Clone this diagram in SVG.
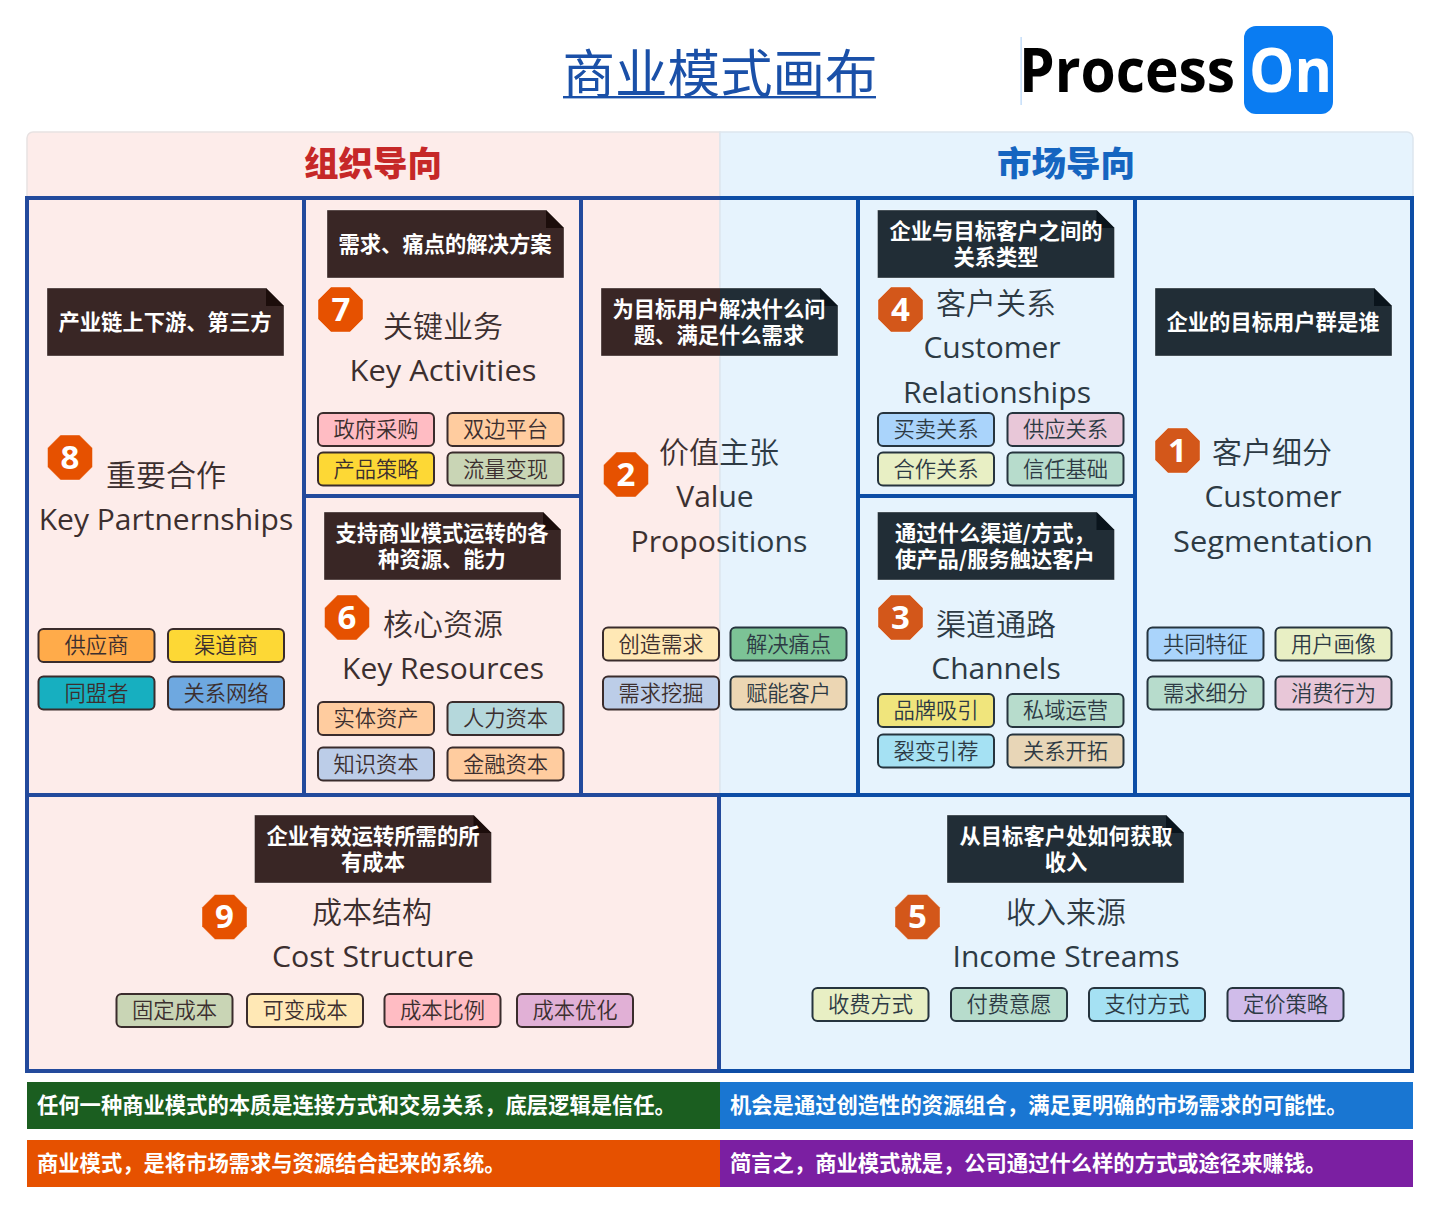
<svg xmlns="http://www.w3.org/2000/svg" width="1440" height="1213" viewBox="0 0 1440 1213">
<style>
text{font-family:"Open Sans","Noto Sans CJK SC","Noto Sans",sans-serif;text-anchor:middle}
.cjk{font-family:"Noto Sans CJK SC","Noto Sans",sans-serif}
.h{font-size:34.5px;font-weight:900}
.n{font-size:21.3px;font-weight:700;fill:#fff;font-family:"Noto Sans CJK SC",sans-serif}
.bar{font-size:21.3px;font-weight:700;fill:#fff;text-anchor:start;font-family:"Noto Sans CJK SC",sans-serif}
.ttl{font-size:30px;font-weight:350;font-family:"Noto Sans CJK SC",sans-serif}
.en{font-size:30px;font-weight:400}
.L{fill:#3c2f2f}
.R{fill:#2d3a44}
.S{fill:url(#split)}
.tx{font-size:21.3px;font-weight:350;font-family:"Noto Sans CJK SC",sans-serif}
.tg{stroke-width:2;rx:5px;ry:5px;width:116px;height:33px}
.tgL{stroke:#3a2c2c}
.tgR{stroke:#26343e}
.d{font-size:33px;font-weight:700;fill:#fff}
.line{fill:none;stroke-width:4}
.a{stroke:#234a9c}
.b{stroke:#0d4da6}
.nb{stroke:#fff;stroke-opacity:.35;stroke-width:1}
</style>
<defs>
<linearGradient id="split" gradientUnits="userSpaceOnUse" x1="0" y1="0" x2="1440" y2="0">
<stop offset="0.5" stop-color="#3c2f2f"/><stop offset="0.5" stop-color="#2d3a44"/>
</linearGradient>
<linearGradient id="splitN" gradientUnits="userSpaceOnUse" x1="0" y1="0" x2="1440" y2="0">
<stop offset="0.5" stop-color="#392625"/><stop offset="0.5" stop-color="#212d36"/>
</linearGradient>
<polygon id="oct" points="13,0 32,0 45,13 45,32 32,45 13,45 0,32 0,13" stroke="#fff" stroke-opacity=".4" stroke-width="1"/>
<path id="note" d="M0,0H219L237,18V68H0Z" class="nb"/>
<path id="fold" d="M219,0L237,18H219Z"/>
</defs>

<rect width="1440" height="1213" fill="#fff"/>

<g id="title">
<text x="720" y="93" class="cjk" font-size="52.5" font-weight="400" fill="#1a50a8">商业模式画布</text>
<rect x="563" y="96" width="313" height="2.4" fill="#1a50a8"/>
</g>

<g id="logo">
<rect x="1020.6" y="37" width="1" height="68" fill="#a9cdf5"/>
<text x="1019" y="92" font-size="61" font-weight="700" fill="#000" style="text-anchor:start" textLength="216" lengthAdjust="spacingAndGlyphs">Process</text>
<rect x="1244" y="26" width="89" height="88" rx="12" fill="#0a7cf2"/>
<text x="1249" y="92" font-size="61" font-weight="700" fill="#fff" style="text-anchor:start" textLength="83" lengthAdjust="spacingAndGlyphs">On</text>
</g>

<g id="panels">
<path d="M720,132H33a6,6 0 0 0 -6,6V1072H720Z" fill="#fdecea" stroke="#e8e2e2" stroke-width="1.5"/>
<path d="M720,132H1407a6,6 0 0 1 6,6V1072H720Z" fill="#e6f3fd" stroke="#dde6ee" stroke-width="1.5"/>
</g>

<g id="headers">
<text x="373" y="176" class="h cjk" fill="#c62828">组织导向</text>
<text x="1066" y="176" class="h cjk" fill="#1565c0">市场导向</text>
</g>

<g id="grid">
<path class="line a" d="M720,198H27V1071H720M27,795H720M304,198V795M581,198V795M304,496H581M719,795V1071"/>
<path class="line b" d="M720,198H1412V1071H720M720,795H1412M858,198V795M1135,198V795M858,496H1135"/>
</g>

<g id="node-8">
<use href="#note" x="47" y="288" fill="#392625"/><use href="#fold" x="47" y="288" fill="#1c0d0b"/>
<text x="165" y="330" class="n">产业链上下游、第三方</text>
<use href="#oct" x="47.5" y="435" fill="#e65100"/><text x="70" y="469" class="d">8</text>
<text x="166" y="486" class="ttl L">重要合作</text>
<text x="166" y="530" class="en L">Key Partnernships</text>
<rect class="tg tgL" x="38.5" y="629" fill="#ffab4a"/><text x="96.5" y="653" class="tx L">供应商</text>
<rect class="tg tgL" x="168" y="629" fill="#fdd835"/><text x="226" y="653" class="tx L">渠道商</text>
<rect class="tg tgL" x="38.5" y="676.5" fill="#17afc0"/><text x="96.5" y="701" class="tx L">同盟者</text>
<rect class="tg tgL" x="168" y="676.5" fill="#6ea8e0"/><text x="226" y="701" class="tx L">关系网络</text>
</g>

<g id="node-7">
<use href="#note" x="327" y="210" fill="#392625"/><use href="#fold" x="327" y="210" fill="#1c0d0b"/>
<text x="445" y="252" class="n">需求、痛点的解决方案</text>
<use href="#oct" x="318" y="287" fill="#e65100"/><text x="341" y="321" class="d">7</text>
<text x="443" y="337" class="ttl L">关键业务</text>
<text x="443" y="381" class="en L" textLength="187" lengthAdjust="spacingAndGlyphs">Key Activities</text>
<rect class="tg tgL" x="318" y="413" fill="#ffbcc3"/><text x="376" y="437" class="tx L">政府采购</text>
<rect class="tg tgL" x="447.5" y="413" fill="#ffcc9f"/><text x="505.5" y="437" class="tx L">双边平台</text>
<rect class="tg tgL" x="318" y="452.5" fill="#fdd835"/><text x="376" y="477" class="tx L">产品策略</text>
<rect class="tg tgL" x="447.5" y="452.5" fill="#c9d5b5"/><text x="505.5" y="477" class="tx L">流量变现</text>
</g>

<g id="node-6">
<use href="#note" x="324" y="512" fill="#392625"/><use href="#fold" x="324" y="512" fill="#1c0d0b"/>
<text x="442" y="541" class="n">支持商业模式运转的各</text>
<text x="442" y="567" class="n">种资源、能力</text>
<use href="#oct" x="324.5" y="595" fill="#e65100"/><text x="347" y="629" class="d">6</text>
<text x="443" y="635" class="ttl L">核心资源</text>
<text x="443" y="679" class="en L" textLength="202" lengthAdjust="spacingAndGlyphs">Key Resources</text>
<rect class="tg tgL" x="318" y="702" fill="#ffcc9f"/><text x="376" y="726" class="tx L">实体资产</text>
<rect class="tg tgL" x="447.5" y="702" fill="#b5d8dc"/><text x="505.5" y="726" class="tx L">人力资本</text>
<rect class="tg tgL" x="318" y="747.5" fill="#bccde8"/><text x="376" y="772" class="tx L">知识资本</text>
<rect class="tg tgL" x="447.5" y="747.5" fill="#ffcc9f"/><text x="505.5" y="772" class="tx L">金融资本</text>
</g>

<g id="node-2">
<path d="M601,288H820L838,306V356H601Z" fill="url(#splitN)" class="nb"/>
<path d="M820,288L838,306H820Z" fill="#0a141c"/>
<text x="719" y="317" class="n">为目标用户解决什么问</text>
<text x="719" y="343" class="n">题、满足什么需求</text>
<use href="#oct" x="603.5" y="452" fill="#e65100"/><text x="626" y="486" class="d">2</text>
<text x="719" y="463" class="ttl S">价值主张</text>
<text x="715" y="507" class="en S">Value</text>
<text x="719" y="552" class="en S" textLength="177" lengthAdjust="spacingAndGlyphs">Propositions</text>
<rect class="tg tgL" x="603" y="627.5" fill="#ffe8b5"/><text x="661" y="652" class="tx L">创造需求</text>
<rect class="tg tgR" x="730.5" y="627.5" fill="#7cc396"/><text x="788.5" y="652" class="tx R">解决痛点</text>
<rect class="tg tgL" x="603" y="676.5" fill="#bccde8"/><text x="661" y="701" class="tx L">需求挖掘</text>
<rect class="tg tgR" x="730.5" y="676.5" fill="#ecd6b3"/><text x="788.5" y="701" class="tx R">赋能客户</text>
</g>

<g id="node-4">
<use href="#note" x="877.5" y="210" fill="#212d36"/><use href="#fold" x="877.5" y="210" fill="#0a141c"/>
<text x="996" y="239" class="n">企业与目标客户之间的</text>
<text x="996" y="265" class="n">关系类型</text>
<use href="#oct" x="878" y="287" fill="#d3571a"/><text x="900.5" y="321" class="d">4</text>
<text x="996" y="314" class="ttl R">客户关系</text>
<text x="992" y="358" class="en R">Customer</text>
<text x="997" y="403" class="en R" textLength="188" lengthAdjust="spacingAndGlyphs">Relationships</text>
<rect class="tg tgR" x="878" y="413" fill="#aad4fb"/><text x="936" y="437" class="tx R">买卖关系</text>
<rect class="tg tgR" x="1007.5" y="413" fill="#e8c7d8"/><text x="1065.5" y="437" class="tx R">供应关系</text>
<rect class="tg tgR" x="878" y="452.5" fill="#e8efc4"/><text x="936" y="477" class="tx R">合作关系</text>
<rect class="tg tgR" x="1007.5" y="452.5" fill="#b7dccc"/><text x="1065.5" y="477" class="tx R">信任基础</text>
</g>

<g id="node-3">
<use href="#note" x="877.5" y="512" fill="#212d36"/><use href="#fold" x="877.5" y="512" fill="#0a141c"/>
<text x="895" y="541" class="n" style="text-anchor:start">通过什么渠道/方式，</text>
<text x="895" y="567" class="n" style="text-anchor:start">使产品/服务触达客户</text>
<use href="#oct" x="878" y="595" fill="#d3571a"/><text x="900.5" y="629" class="d">3</text>
<text x="996" y="635" class="ttl R">渠道通路</text>
<text x="996" y="679" class="en R">Channels</text>
<rect class="tg tgR" x="878" y="694" fill="#f0e57c"/><text x="936" y="718" class="tx R">品牌吸引</text>
<rect class="tg tgR" x="1007.5" y="694" fill="#b7dccc"/><text x="1065.5" y="718" class="tx R">私域运营</text>
<rect class="tg tgR" x="878" y="734.5" fill="#a5e1f3"/><text x="936" y="759" class="tx R">裂变引荐</text>
<rect class="tg tgR" x="1007.5" y="734.5" fill="#e8d6b7"/><text x="1065.5" y="759" class="tx R">关系开拓</text>
</g>

<g id="node-1">
<use href="#note" x="1155" y="288" fill="#212d36"/><use href="#fold" x="1155" y="288" fill="#0a141c"/>
<text x="1273" y="330" class="n">企业的目标用户群是谁</text>
<use href="#oct" x="1155" y="428" fill="#d3571a"/><text x="1177.5" y="462" class="d">1</text>
<text x="1272" y="463" class="ttl R">客户细分</text>
<text x="1273" y="507" class="en R">Customer</text>
<text x="1273" y="552" class="en R" textLength="200" lengthAdjust="spacingAndGlyphs">Segmentation</text>
<rect class="tg tgR" x="1147.5" y="627.5" fill="#aad4fb"/><text x="1205.5" y="652" class="tx R">共同特征</text>
<rect class="tg tgR" x="1275.5" y="627.5" fill="#e8efc4"/><text x="1333.5" y="652" class="tx R">用户画像</text>
<rect class="tg tgR" x="1147.5" y="676.5" fill="#b7dccc"/><text x="1205.5" y="701" class="tx R">需求细分</text>
<rect class="tg tgR" x="1275.5" y="676.5" fill="#e8c7d8"/><text x="1333.5" y="701" class="tx R">消费行为</text>
</g>

<g id="node-9">
<use href="#note" x="254.5" y="815" fill="#392625"/><use href="#fold" x="254.5" y="815" fill="#1c0d0b"/>
<text x="373" y="844" class="n">企业有效运转所需的所</text>
<text x="373" y="870" class="n">有成本</text>
<use href="#oct" x="202" y="894.5" fill="#e65100"/><text x="224.5" y="928" class="d">9</text>
<text x="372" y="923" class="ttl L">成本结构</text>
<text x="373" y="967" class="en L" textLength="202" lengthAdjust="spacingAndGlyphs">Cost Structure</text>
<rect class="tg tgL" x="116.5" y="994" fill="#c9d5b5"/><text x="174.5" y="1018" class="tx L">固定成本</text>
<rect class="tg tgL" x="247" y="994" fill="#ffe8b5"/><text x="305" y="1018" class="tx L">可变成本</text>
<rect class="tg tgL" x="384.5" y="994" fill="#ffbcc3"/><text x="442.5" y="1018" class="tx L">成本比例</text>
<rect class="tg tgL" x="517" y="994" fill="#e1b0d6"/><text x="575" y="1018" class="tx L">成本优化</text>
</g>

<g id="node-5">
<use href="#note" x="947" y="815" fill="#212d36"/><use href="#fold" x="947" y="815" fill="#0a141c"/>
<text x="1066" y="844" class="n">从目标客户处如何获取</text>
<text x="1066" y="870" class="n">收入</text>
<use href="#oct" x="895" y="894.5" fill="#d3571a"/><text x="917.5" y="928" class="d">5</text>
<text x="1066" y="923" class="ttl R">收入来源</text>
<text x="1066" y="967" class="en R" textLength="227" lengthAdjust="spacingAndGlyphs">Income Streams</text>
<rect class="tg tgR" x="812.5" y="988" fill="#e8efc4"/><text x="870.5" y="1012" class="tx R">收费方式</text>
<rect class="tg tgR" x="951" y="988" fill="#b7dccc"/><text x="1009" y="1012" class="tx R">付费意愿</text>
<rect class="tg tgR" x="1089" y="988" fill="#a5e1f3"/><text x="1147" y="1012" class="tx R">支付方式</text>
<rect class="tg tgR" x="1227.5" y="988" fill="#d0bcea"/><text x="1285.5" y="1012" class="tx R">定价策略</text>
</g>

<g id="bars">
<rect x="27" y="1082" width="693" height="47" fill="#1b5e20"/>
<rect x="720" y="1082" width="693" height="47" fill="#1976d2"/>
<rect x="27" y="1140" width="693" height="47" fill="#e65100"/>
<rect x="720" y="1140" width="693" height="47" fill="#7b1fa2"/>
<text x="37" y="1113" class="bar">任何一种商业模式的本质是连接方式和交易关系，底层逻辑是信任。</text>
<text x="730" y="1113" class="bar">机会是通过创造性的资源组合，满足更明确的市场需求的可能性。</text>
<text x="37" y="1171" class="bar">商业模式，是将市场需求与资源结合起来的系统。</text>
<text x="730" y="1171" class="bar">简言之，商业模式就是，公司通过什么样的方式或途径来赚钱。</text>
</g>
</svg>
